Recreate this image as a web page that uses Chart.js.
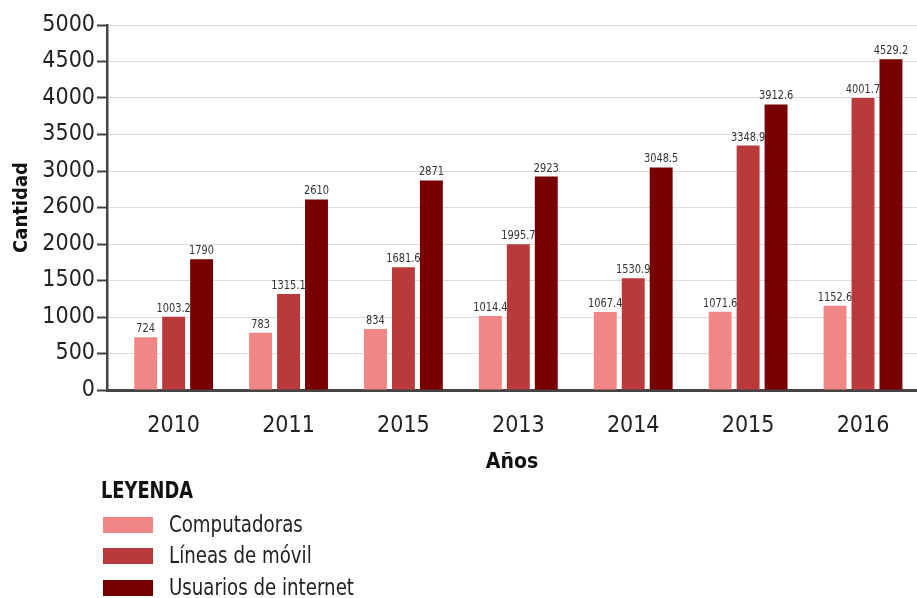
<!DOCTYPE html>
<html>
<head>
<meta charset="utf-8">
<script src="https://cdn.jsdelivr.net/npm/chart.js@4.4.1/dist/chart.umd.min.js"></script>
<style>
  html, body { margin: 0; padding: 0; background: #ffffff; overflow: hidden; }
  #wrap { position: relative; width: 917px; height: 598px; }
</style>
</head>
<body>
<div id="wrap"><canvas id="c"></canvas></div>
<script>
// ---- data ----
const categories = ['2010', '2011', '2015', '2013', '2014', '2015', '2016'];
const computadoras = [724, 783, 834, 1014.4, 1067.4, 1071.6, 1152.6];
const lineasMovil = [1003.2, 1315.1, 1681.6, 1995.7, 1530.9, 3348.9, 4001.7];
const usuariosInternet = [1790, 2610, 2871, 2923, 3048.5, 3912.6, 4529.2];
const seriesNames = ['Computadoras', 'Líneas de móvil', 'Usuarios de internet'];
const yTickLabels = ['0', '500', '1000', '1500', '2000', '2600', '3000', '3500', '4000', '4500', '5000'];

const FONT = "'Liberation Sans Narrow', 'DejaVu Sans Condensed', 'Roboto', sans-serif";
const colors = ['#F08686', '#BA3A3C', '#780000'];

function toPoints(arr) { return arr.map((v, i) => ({ x: i, y: v })); }

function narrowText(ctx, text, x, y, sx) {
  ctx.save();
  ctx.translate(x, y);
  ctx.scale(sx, 1);
  ctx.fillText(text, 0, 0);
  ctx.restore();
}

const valueLabels = {
  id: 'valueLabels',
  beforeDatasetsDraw(chart) {
    const ctx = chart.ctx;
    ctx.save();
    ctx.font = '13px ' + FONT;
    ctx.fillStyle = '#333333';
    ctx.textAlign = 'center';
    ctx.textBaseline = 'alphabetic';
    chart.data.datasets.forEach((ds, i) => {
      const meta = chart.getDatasetMeta(i);
      meta.data.forEach((bar, j) => {
        narrowText(ctx, String(ds.data[j].y), bar.x, bar.y - 5, 0.84);
      });
    });
    ctx.restore();
  }
};

const customLegend = {
  id: 'customLegend',
  afterDraw(chart) {
    const ctx = chart.ctx;
    ctx.save();
    ctx.fillStyle = '#111111';
    ctx.textAlign = 'left';
    ctx.textBaseline = 'middle';
    ctx.font = 'bold 23px ' + FONT;
    narrowText(ctx, 'LEYENDA', 101, 492, 0.86);
    const rows = [525, 556, 588];
    ctx.font = '23px ' + FONT;
    chart.data.datasets.forEach((ds, i) => {
      const y = rows[i];
      ctx.fillStyle = ds.backgroundColor;
      ctx.fillRect(103, y - 8, 50, 16);
      ctx.fillStyle = '#222222';
      narrowText(ctx, ds.label, 169, y + 1, 0.88);
    });
    ctx.restore();
  }
};

new Chart(document.getElementById('c'), {
  type: 'bar',
  data: {
    datasets: [
      { label: seriesNames[0], data: toPoints(computadoras), backgroundColor: colors[0] },
      { label: seriesNames[1], data: toPoints(lineasMovil), backgroundColor: colors[1] },
      { label: seriesNames[2], data: toPoints(usuariosInternet), backgroundColor: colors[2] }
    ]
  },
  options: {
    responsive: true,
    maintainAspectRatio: false,
    animation: false,
    events: [],
    barPercentage: 0.82,
    categoryPercentage: 0.73,
    layout: { padding: { top: 25, right: 0, bottom: 121, left: 0 } },
    plugins: { legend: { display: false }, tooltip: { enabled: false } },
    scales: {
      x: {
        type: 'linear',
        offset: false,
        min: -0.58,
        max: 6.47,
        afterBuildTicks(scale) { scale.ticks = categories.map((_, i) => ({ value: i })); },
        afterFit(scale) { scale.height = 87; },
        grid: { display: false },
        border: { display: true, color: '#444444', width: 3 },
        ticks: {
          autoSkip: false,
          maxRotation: 0,
          padding: 14,
          color: '#222222',
          font: { family: FONT, size: 23 },
          callback: (v) => categories[v] !== undefined ? categories[v] : ''
        },
        title: {
          display: true,
          text: 'Años',
          color: '#111111',
          font: { family: FONT, size: 21, weight: 'bold' },
          padding: { top: 0, bottom: 2 }
        }
      },
      y: {
        min: 0,
        max: 5000,
        afterFit(scale) { scale.width = 107; },
        afterBuildTicks(scale) {
          scale.ticks = yTickLabels.map((_, i) => ({ value: i * 500 }));
        },
        grid: { color: '#dcdcdc', lineWidth: 1, tickLength: 10, tickColor: '#444444', tickWidth: 2 },
        border: { display: true, color: '#444444', width: 2.5 },
        ticks: {
          padding: 2,
          color: '#222222',
          font: { family: FONT, size: 23 },
          callback: (v) => yTickLabels[Math.round(v / 500)]
        },
        title: {
          display: true,
          text: 'Cantidad',
          color: '#111111',
          font: { family: FONT, size: 20, weight: 'bold' },
          padding: { top: 10, bottom: 0 }
        }
      }
    }
  },
  plugins: [valueLabels, customLegend]
});
</script>
</body>
</html>
